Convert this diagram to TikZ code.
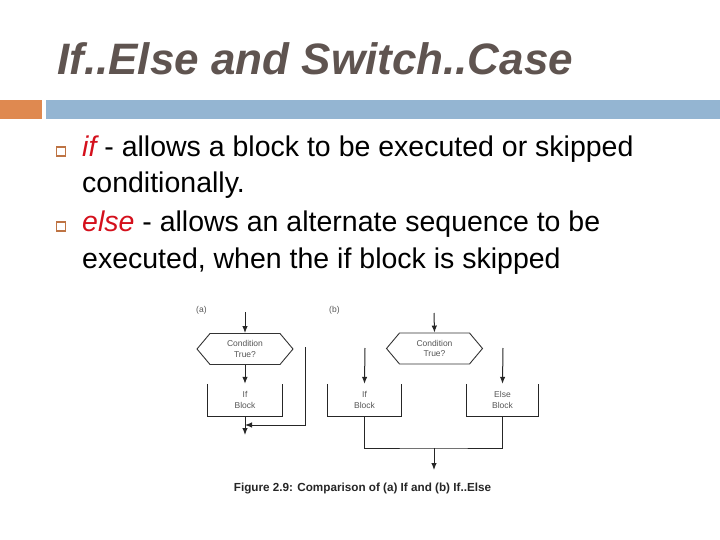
\documentclass[tikz,border=0pt]{standalone}
\usepackage{fontspec}
\setmainfont{Liberation Sans}
\usepackage{tikz}
\usetikzlibrary{arrows.meta, positioning, shapes.symbols}
\definecolor{titlegray}{HTML}{5F5450}
\definecolor{barorange}{HTML}{DF8950}
\definecolor{barblue}{HTML}{94B5D2}
\definecolor{kwred}{HTML}{D4101C}
\definecolor{figgray}{HTML}{555555}
\newcommand{\kw}[1]{\textcolor{kwred}{\itshape #1}}

\begin{document}
\begin{tikzpicture}[
    x=1pt, y=-1pt,
    body/.style={anchor=base west, inner sep=0pt, font=\fontsize{28.5}{34}\selectfont},
    bullet/.style={draw=barorange!85!black, line width=1.2pt, minimum size=9pt, inner sep=0pt},
    cond/.style={signal, signal to=west and east, signal pointer angle=100, draw=black!80,
                 line width=0.9pt, minimum width=96pt, minimum height=31pt, inner sep=0pt,
                 align=center, font=\fontsize{8.5}{10.5}\selectfont, text=figgray},
    blk/.style={minimum width=#1, minimum height=32pt, inner sep=0pt, align=center,
                font=\fontsize{8.5}{10.5}\selectfont, text=figgray},
    blk/.default=74pt,
    lbl/.style={font=\fontsize{8.5}{10}\selectfont, text=figgray, inner sep=0pt},
    arr/.style={-{Latex[length=7pt, width=5.5pt]}, black!85, line width=1pt},
    ln/.style={black!85, line width=1pt},
]
\useasboundingbox (0,0) rectangle (720,540);

% Title and bar
\node[anchor=base west, inner sep=0pt, text=titlegray,
      font=\fontsize{44}{52}\selectfont\bfseries\itshape] (title) at (57,75) {If..Else and Switch..Case};
\fill[barorange] (0,100) rectangle (42,119);
\fill[barblue]   (46,100) rectangle (720,119);

% Bullets
\node[bullet] (bul1) at (61,151.5) {};
\node[body] (if1) at (82,157) {\kw{if} - allows a block to be executed or skipped};
\node[body] (if2) at (82,193) {conditionally.};
\node[bullet] (bul2) at (61,226.5) {};
\node[body] (else1) at (82,232) {\kw{else} - allows an alternate sequence to be};
\node[body] (else2) at (82,268) {executed, when the if block is skipped};

% (a) If
\node[lbl, anchor=west] (a-lbl) at (196,310) {(a)};
\coordinate (a-top) at (245,312);
\node[cond] (a-cond) at (245,349) {Condition\\True?};
\node[blk] (a-if) at (245,400) {If\\Block};
\coordinate (a-skip) at (305,347);
\coordinate (a-join) at (245,425);
\coordinate (a-out) at (245,435);

\draw[arr] (a-top) -- (a-cond.north);
\draw[arr] (a-cond.south) -- (a-if.north);
\draw[ln] (a-if.north west) -- (a-if.south west) -- (a-if.south east) -- (a-if.north east);
\draw[arr] (a-skip) |- (a-join);
\draw[arr] (a-if.south) -- (a-out);

% (b) If..Else
\node[lbl, anchor=west] (b-lbl) at (329,310) {(b)};
\coordinate (b-top) at (434,313);
\node[cond] (b-cond) at (434.5,348.5) {Condition\\True?};
\coordinate (b-left) at (365,348);
\coordinate (b-right) at (503,348);
\node[blk=73pt] (b-if) at (364.5,400) {If\\Block};
\node[blk=71pt] (b-else) at (502.5,400) {Else\\Block};
\coordinate (b-join) at (434,448);
\coordinate (b-out) at (434,470);

\draw[arr] (b-top) -- (b-cond.north);
\draw[arr] (b-left) -- (b-if.north);
\draw[arr] (b-right) -- (b-else.north);
\draw[ln] (b-if.north west) -- (b-if.south west) -- (b-if.south east) -- (b-if.north east);
\draw[ln] (b-else.north west) -- (b-else.south west) -- (b-else.south east) -- (b-else.north east);
\draw[ln] (b-if.south) |- (b-join) -| (b-else.south);
\draw[arr] (b-join) -- (b-out);

% Caption
\node[font=\fontsize{11.7}{13}\selectfont\bfseries, text=black!85, inner sep=0pt] (cap) at (362.5,488)
    {Figure 2.9: Comparison of (a) If and (b) If..Else};
\end{tikzpicture}
\end{document}
